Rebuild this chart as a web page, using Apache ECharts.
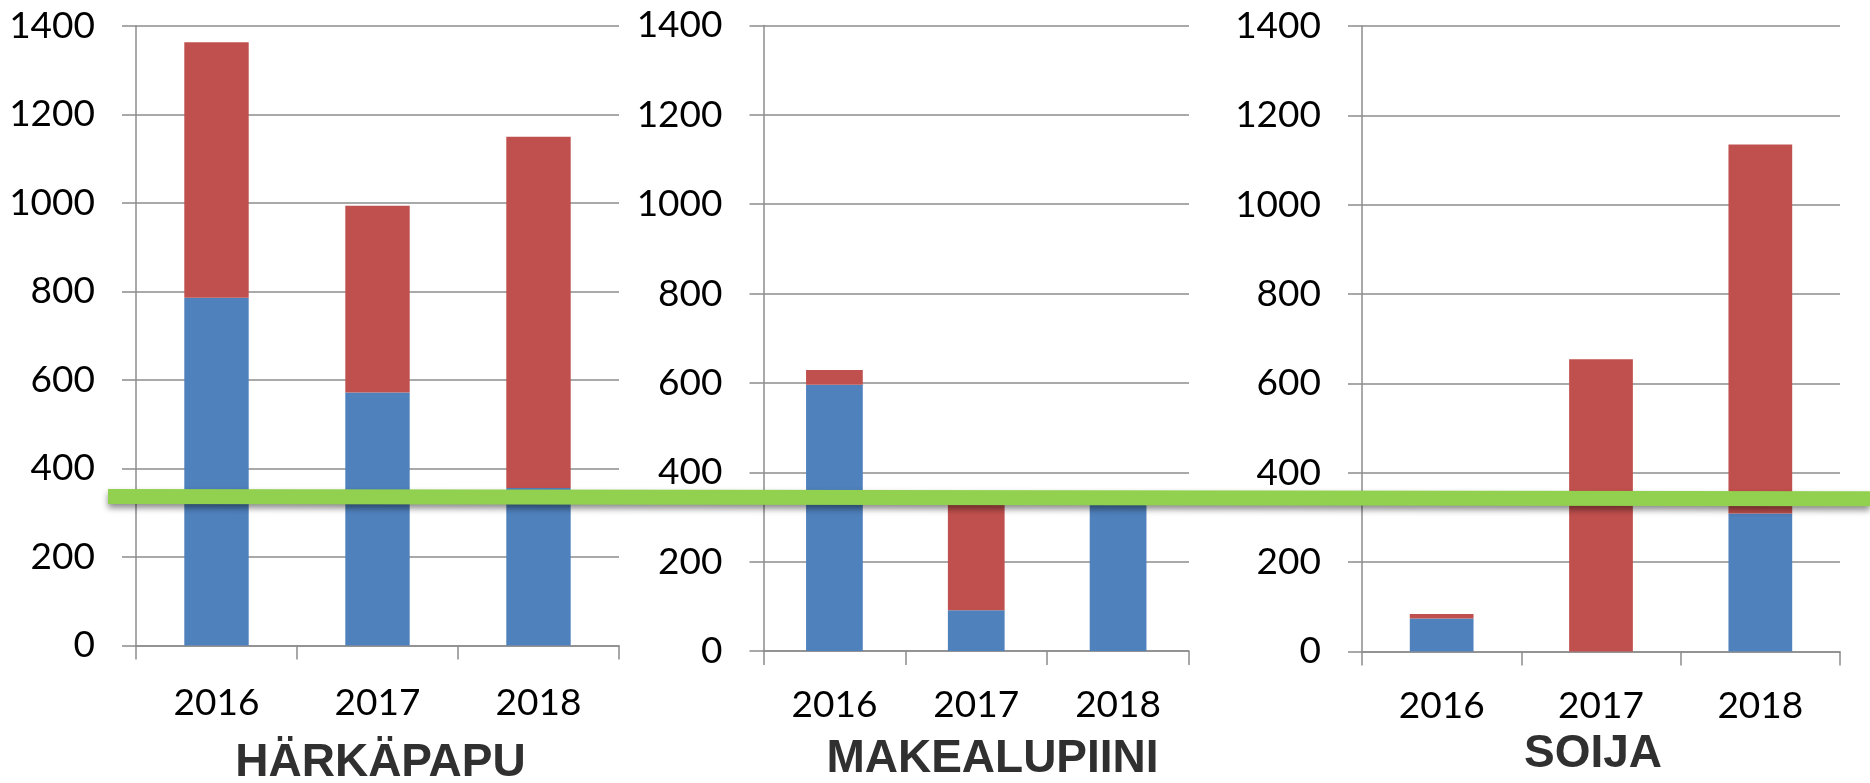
<!DOCTYPE html>
<html>
<head>
<meta charset="utf-8">
<script src="https://cdn.jsdelivr.net/npm/echarts@6/dist/echarts.min.js"></script>
<style>
  html, body { margin: 0; padding: 0; background: #ffffff; }
  #chart { width: 1870px; height: 783px; }
</style>
</head>
<body>
<div id="chart"></div>
<script>
// Harvest per crop and year: lower (blue) and upper (red) stacked parts
const years = ['2016', '2017', '2018'];
const crops = ['HÄRKÄPAPU', 'MAKEALUPIINI', 'SOIJA'];
const yTicks = { min: 0, max: 1400, step: 200 };

const lowerHarkapapu = [786, 572, 356];
const upperHarkapapu = [577, 422, 794];
const lowerMakealupiini = [596, 91, 340];
const upperMakealupiini = [33, 249, 0];
const lowerSoija = [74, 0, 309];
const upperSoija = [10, 654, 826];

// Level of the green reference line (left end on first panel, right end on last panel)
const referenceLevel = [337, 342];

const lowerSets = [lowerHarkapapu, lowerMakealupiini, lowerSoija];
const upperSets = [upperHarkapapu, upperMakealupiini, upperSoija];

const BLUE = '#4F81BD';
const RED = '#C0504D';
const GRID_GRAY = '#8c8c8c';
const FONT = 'Lato';

const grids = [
  { left: 136, right: 1251, top: 26, bottom: 137.5 },
  { left: 763.5, right: 681, top: 25.5, bottom: 132 },
  { left: 1362, right: 30, top: 26, bottom: 131.5 }
];
const xLabelMargin = [39, 36, 36];
const titlePos = [
  { x: 380.5, y: 763.5 },
  { x: 992.5, y: 759.5 },
  { x: 1593, y: 754.5 }
];

const xAxes = grids.map((g, i) => ({
  type: 'category',
  gridIndex: i,
  data: years,
  boundaryGap: true,
  axisLine: { show: true, lineStyle: { color: GRID_GRAY, width: 1.5 } },
  axisTick: { show: true, length: 14, lineStyle: { color: GRID_GRAY, width: 1.5 } },
  axisLabel: {
    margin: xLabelMargin[i],
    color: '#000000',
    fontFamily: FONT,
    fontSize: 37,
    lineHeight: 37
  }
}));

const yAxes = grids.map((g, i) => ({
  type: 'value',
  gridIndex: i,
  min: yTicks.min,
  max: yTicks.max,
  interval: yTicks.step,
  axisLine: { show: true, lineStyle: { color: GRID_GRAY, width: 1.5 } },
  axisTick: { show: true, length: 14, lineStyle: { color: GRID_GRAY, width: 1.5 } },
  splitLine: { show: true, lineStyle: { color: GRID_GRAY, width: 1.5 } },
  axisLabel: {
    margin: 41,
    color: '#000000',
    fontFamily: FONT,
    fontSize: 37,
    formatter: (v) => String(v)
  }
}));

const series = [];
grids.forEach((g, i) => {
  series.push({
    name: crops[i] + ' a',
    type: 'bar',
    xAxisIndex: i,
    yAxisIndex: i,
    stack: 'crop' + i,
    barWidth: '40%',
    itemStyle: { color: BLUE },
    data: lowerSets[i]
  });
  series.push({
    name: crops[i] + ' b',
    type: 'bar',
    xAxisIndex: i,
    yAxisIndex: i,
    stack: 'crop' + i,
    barWidth: '40%',
    itemStyle: { color: RED },
    data: upperSets[i]
  });
});

const titles = crops.map((name, i) => ({
  type: 'text',
  x: titlePos[i].x,
  y: titlePos[i].y,
  z: 10,
  style: {
    text: name,
    fill: '#303030',
    font: 'bold 46px "Liberation Sans", Arial, sans-serif',
    align: 'center',
    verticalAlign: 'middle'
  }
}));

const chart = echarts.init(document.getElementById('chart'), null, { renderer: 'canvas' });
chart.setOption({
  animation: false,
  backgroundColor: '#ffffff',
  grid: grids,
  xAxis: xAxes,
  yAxis: yAxes,
  series: series,
  graphic: titles
});

// Green reference line drawn across all three panels
const leftPt = chart.convertToPixel({ gridIndex: 0 }, [0, referenceLevel[0]]);
const rightPt = chart.convertToPixel({ gridIndex: 2 }, [0, referenceLevel[1]]);
chart.setOption({
  graphic: titles.concat([{
    type: 'line',
    z: 20,
    shape: { x1: grids[0].left - 28, y1: leftPt[1], x2: chart.getWidth(), y2: rightPt[1] },
    style: {
      stroke: '#92D050',
      lineWidth: 15,
      lineCap: 'butt',
      shadowBlur: 6,
      shadowColor: 'rgba(0,0,0,0.45)',
      shadowOffsetY: 4
    }
  }])
});
</script>
</body>
</html>
